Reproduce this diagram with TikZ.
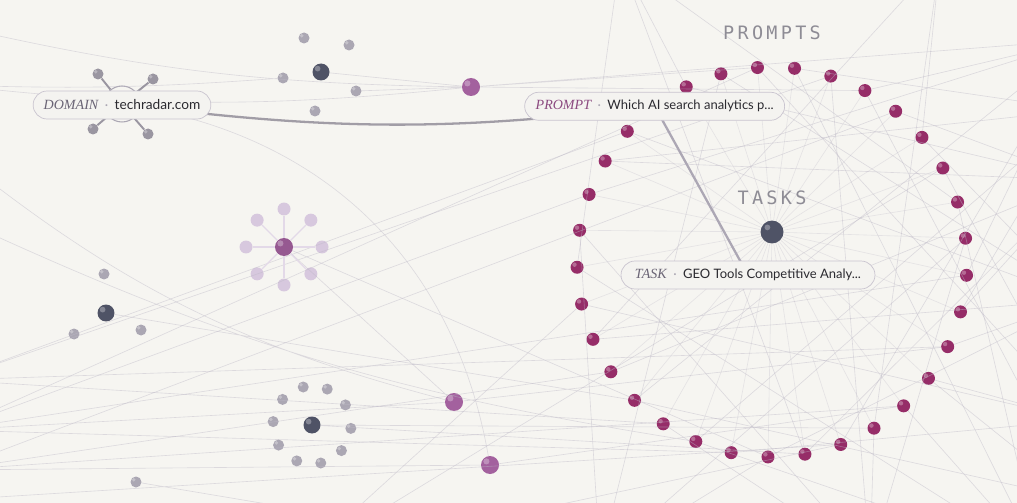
\documentclass[tikz,border=0pt]{standalone}
\usepackage{fontspec}
\setmainfont{Lato}
\newfontfamily\kindfont{Liberation Serif}
\newfontfamily\headfont[LetterSpace=18]{DejaVu Sans Mono}
\usetikzlibrary{calc}
\definecolor{paper}{HTML}{F6F5F1}
\definecolor{plum}{HTML}{962D68}
\definecolor{slate}{HTML}{4F5366}
\definecolor{mist}{HTML}{ABA7B3}
\definecolor{orchid}{HTML}{A3619E}
\definecolor{lilac}{HTML}{D7C8DE}
\definecolor{webline}{HTML}{BDB8C6}
\definecolor{tagline}{HTML}{C9C4CF}
\definecolor{tagfill}{HTML}{F4F3F0}
\definecolor{ink}{HTML}{2B2A30}
\definecolor{headgray}{HTML}{8E8C95}
\definecolor{kindgray}{HTML}{6A6475}
\definecolor{kindplum}{HTML}{8C4A80}
\newcommand{\kindtag}[2]{{\kindfont\itshape\fontsize{8}{9}\selectfont\color{#1}#2}\enspace{\color{mist}·}\enspace}

\begin{document}
\begin{tikzpicture}[x=0.02cm,y=-0.02cm,
  ball/.style 2 args={circle,inner sep=0pt,minimum size=#1*.2mm,fill=#2,
    path picture={\fill[white,opacity=.3]
      ($(path picture bounding box.center)!.4!(path picture bounding box.north west)$) circle[radius=#1*.17];}},
  prompt/.style={ball={13}{plum}},
  hub/.style={ball={17}{slate}},
  sat/.style={ball={11}{mist}},
  bloom/.style={ball={18}{orchid}},
  petal/.style={circle,inner sep=0pt,minimum size=2.6mm,fill=lilac},
  tag/.style={draw=tagline,fill=tagfill,rounded corners=.28cm,minimum height=.56cm,
    inner xsep=6pt,text=ink,font=\fontsize{7.4}{9}\selectfont},
  head/.style={text=headgray,font=\headfont\fontsize{10.5}{12}\selectfont},
  web/.style={draw=webline,line width=.35pt,opacity=.45},
  stem/.style={draw=lilac!70!white,line width=.8pt},
  spoke/.style={draw=mist!90!black,line width=1.1pt},
  link/.style={draw=#1,line width=1.3pt},
  link/.default=tagline!80!black]
\useasboundingbox (0,0) rectangle (1017,503);
\fill[paper] (0,0) rectangle (1017,503);
\clip (0,0) rectangle (1017,503);

% off-canvas ends of the web
\foreach \n/\x/\y in {1/1080/40,2/1080/180,3/1080/300,4/1080/420,5/1040/560,6/870/560}
  \coordinate (o\n) at (\x,\y);
\foreach \n/\x/\y in {1/-50/380,2/-50/470,3/300/560,4/600/560,5/1080/110,
  6/1080/500,7/940/-40,8/620/-40,9/-50/430}
  \coordinate (q\n) at (\x,\y);
\foreach \n/\x/\y in {1/-50/25,2/-50/85,3/-50/150,4/-50/215,5/-50/500}
  \coordinate (w\n) at (\x,\y);

% prompts ring
\coordinate (ring) at (772,262);
\foreach \k in {1,...,32}
  \node[prompt] (p\k) at ($(ring)+({-127+\k*360/33}:195)$) {};
\node[hub,minimum size=4.6mm] (taskdot) at (772,232) {};
\coordinate (pc) at ($(ring)+(-127:195)$);
\coordinate (tc) at (748,275);

% clusters
\node[circle,draw=mist,line width=.6pt,minimum size=7.2mm] (dom) at (122,104) {};
\foreach \n/\x/\y in {1/98/74,2/153/79,3/93/129,4/148/134}
  \node[sat,fill=mist!90!black] (d\n) at (\x,\y) {};
\node[hub] (top) at (321,72) {};
\foreach \n/\x/\y in {1/304/38,2/349/45,3/283/78,4/356/91,5/315/111}
  \node[sat] (t\n) at (\x,\y) {};
\node[bloom] (pu1) at (471,87) {};
\node[bloom] (pu2) at (454,402) {};
\node[bloom] (pu3) at (490,465) {};
\node[bloom,fill=orchid!92!black] (mid) at (284,247) {};
\foreach \k in {0,...,7}
  \node[petal] (m\k) at ($(mid)+(\k*45:38)$) {};
\node[hub] (left) at (106,313) {};
\foreach \n/\x/\y in {1/104/274,2/141/330,3/74/334}
  \node[sat] (l\n) at (\x,\y) {};
\node[hub] (low) at (312,425) {};
\foreach \k in {0,...,9}
  \node[sat] (b\k) at ($(low)+({-103+\k*36}:39)$) {};
\node[sat] (far) at (136,482) {};

% faint web
\foreach \k in {1,...,32}{
  \pgfmathtruncatemacro\a{mod(\k,6)+1}
  \pgfmathtruncatemacro\b{mod(5*\k+2,9)+1}
  \path[web,opacity=.3] (taskdot) -- (p\k);
  \path[web] (p\k) -- (o\a) (p\k) -- (q\b);
}
\path[web] (w1) to[bend right=6] (pu1) (w2) to[bend right=3] (t3)
  (w2) to[bend right=6] (pu1) (top) -- (pu1) (t4) -- (pu1)
  (pu1) -- (p3) (pu1) -- (p6) (pu1) -- (o1)
  (w3) to[bend right=12] (pu2) (w4) to[bend right=8] (p22)
  (dom) to[bend left=35] (pu3) (mid) -- (pu2) (mid) -- (p20)
  (w5) -- (p18) (q9) -- (pu2) (pu2) -- (p14) (pu3) -- (p16)
  (q2) -- (pu3) (low) -- (p19) (low) -- (p17) (far) -- (q4)
  (left) -- (p24);
\foreach \k in {0,...,7} \path[stem] (mid) -- (m\k);
\foreach \n in {1,...,4} \path[spoke] (dom) -- (d\n);

% links, then the labels over them
\path[link] (dom) to[bend right=7] (pc);
\path[link=tagline!70!kindgray] (pc) -- (tc);
\node[tag,minimum width=5.2cm] (prompt) at (pc)
  {\kindtag{kindplum}{PROMPT}Which AI search analytics p...};
\node[tag,minimum width=5.08cm] (task) at (tc)
  {\kindtag{kindgray}{TASK}GEO Tools Competitive Analy...};
\node[tag,minimum width=3.4cm] (domain) at (122,105)
  {\kindtag{kindgray}{DOMAIN}{\fontsize{7.8}{9}\selectfont techradar.com}};

\node[head] (prompts) at (772,33) {PROMPTS};
\node[head] (tasks) at (772,198) {TASKS};
\end{tikzpicture}
\end{document}
